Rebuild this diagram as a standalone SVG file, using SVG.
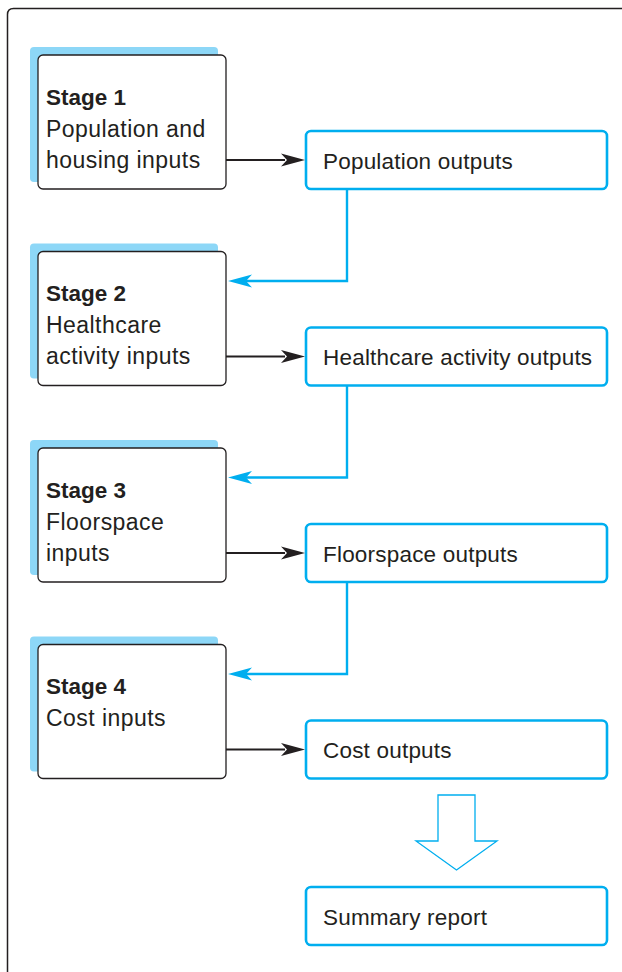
<svg xmlns="http://www.w3.org/2000/svg" width="622" height="972" viewBox="0 0 622 972">
<style>
.shadow{fill:#8dd7f7}
.stage{fill:#fff;stroke:#231f20;stroke-width:1.3}
.out{fill:#fff;stroke:#00aeef;stroke-width:2.6}
.t{font-family:"Liberation Sans",Arial,sans-serif;fill:#231f20}
.st{font-size:23px;letter-spacing:0.45px}
.b{font-weight:bold;font-size:22.5px}
.ot{font-size:22.5px;letter-spacing:0.2px}
.bk{fill:none;stroke:#231f20;stroke-width:2}
.bl{fill:none;stroke:#00aeef;stroke-width:2.4}
</style>
<defs>
<path id="ahk" d="M0,0 L-24,-6.5 L-18,0 L-24,6.5 Z"/>
</defs>
<path d="M7.5,972 V14.5 Q7.5,8.5 13.5,8.5 H622" fill="none" stroke="#231f20" stroke-width="1.5"/>

<g id="stage1">
<rect class="shadow" x="30" y="47" width="188" height="135" rx="4"/>
<rect class="stage" x="38" y="55" width="188" height="134" rx="5"/>
<text class="t b" x="46" y="104.5">Stage 1</text>
<text class="t st" x="46" y="136.5">Population and</text>
<text class="t st" x="46" y="167.5">housing inputs</text>
</g>
<g id="stage2">
<rect class="shadow" x="30" y="243.5" width="188" height="135" rx="4"/>
<rect class="stage" x="38" y="251.5" width="188" height="134" rx="5"/>
<text class="t b" x="46" y="301">Stage 2</text>
<text class="t st" x="46" y="333">Healthcare</text>
<text class="t st" x="46" y="364">activity inputs</text>
</g>
<g id="stage3">
<rect class="shadow" x="30" y="440" width="188" height="135" rx="4"/>
<rect class="stage" x="38" y="448" width="188" height="134" rx="5"/>
<text class="t b" x="46" y="497.5">Stage 3</text>
<text class="t st" x="46" y="529.5">Floorspace</text>
<text class="t st" x="46" y="560.5">inputs</text>
</g>
<g id="stage4">
<rect class="shadow" x="30" y="636.5" width="188" height="135" rx="4"/>
<rect class="stage" x="38" y="644.5" width="188" height="134" rx="5"/>
<text class="t b" x="46" y="694">Stage 4</text>
<text class="t st" x="46" y="726">Cost inputs</text>
</g>

<g id="out1">
<rect class="out" x="306" y="131" width="301" height="58" rx="5"/>
<text class="t ot" x="323" y="168.5">Population outputs</text>
</g>
<g id="out2">
<rect class="out" x="306" y="327.5" width="301" height="58" rx="5"/>
<text class="t ot" x="323" y="365">Healthcare activity outputs</text>
</g>
<g id="out3">
<rect class="out" x="306" y="524" width="301" height="58" rx="5"/>
<text class="t ot" x="323" y="561.5">Floorspace outputs</text>
</g>
<g id="out4">
<rect class="out" x="306" y="720.5" width="301" height="58" rx="5"/>
<text class="t ot" x="323" y="758">Cost outputs</text>
</g>
<g id="summary">
<rect class="out" x="306" y="887" width="301" height="58" rx="5"/>
<text class="t ot" x="323" y="924.5">Summary report</text>
</g>

<g id="connectors">
<path class="bk" d="M226,160 H285"/>
<use href="#ahk" transform="translate(305,160)" fill="#231f20"/>
<path class="bk" d="M226,356.5 H285"/>
<use href="#ahk" transform="translate(305,356.5)" fill="#231f20"/>
<path class="bk" d="M226,553 H285"/>
<use href="#ahk" transform="translate(305,553)" fill="#231f20"/>
<path class="bk" d="M226,749.5 H285"/>
<use href="#ahk" transform="translate(305,749.5)" fill="#231f20"/>

<path class="bl" d="M347,189 V281 H246"/>
<use href="#ahk" transform="translate(228,281) rotate(180)" fill="#00aeef"/>
<path class="bl" d="M347,385.5 V477.5 H246"/>
<use href="#ahk" transform="translate(228,477.5) rotate(180)" fill="#00aeef"/>
<path class="bl" d="M347,582 V674 H246"/>
<use href="#ahk" transform="translate(228,674) rotate(180)" fill="#00aeef"/>

<polygon points="438,795 475,795 475,841 497,841 456.5,870 416,841 438,841" fill="#fff" stroke="#00aeef" stroke-width="1.3"/>
</g>
</svg>
